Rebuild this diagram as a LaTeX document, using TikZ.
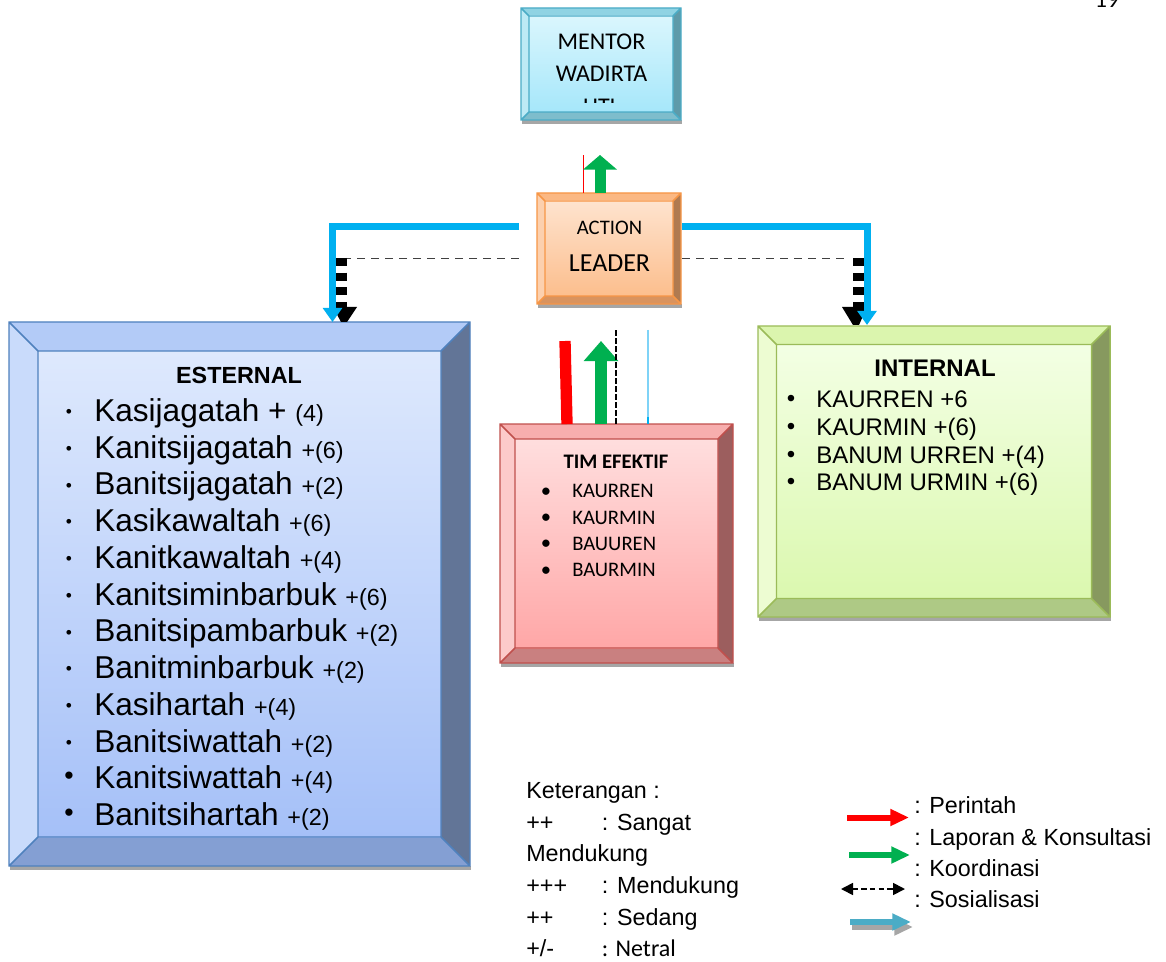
\documentclass[tikz,border=0pt]{standalone}
\usepackage{fontspec}
\setmainfont{Liberation Sans}
\newfontfamily\calfont{Carlito}
\usetikzlibrary{arrows.meta,fit,calc}
% colour schemes: T top, L left, R right, B bottom, I1/I2 inner gradient, D border
\definecolor{mentorT}{HTML}{8FD3E3}\definecolor{mentorL}{HTML}{BDEAF5}\definecolor{mentorR}{HTML}{5E9AA9}\definecolor{mentorB}{HTML}{7EBDCC}
\definecolor{mentorI1}{HTML}{DAF6FD}\definecolor{mentorI2}{HTML}{A6E7FA}\definecolor{mentorD}{HTML}{4BACC6}
\definecolor{leaderT}{HTML}{FBB883}\definecolor{leaderL}{HTML}{FCD0AE}\definecolor{leaderR}{HTML}{B07A50}\definecolor{leaderB}{HTML}{D9935E}
\definecolor{leaderI1}{HTML}{FEE3CE}\definecolor{leaderI2}{HTML}{FCBE8D}\definecolor{leaderD}{HTML}{F79646}
\definecolor{esternalT}{HTML}{B3CBF7}\definecolor{esternalL}{HTML}{C9DBFB}\definecolor{esternalR}{HTML}{627597}\definecolor{esternalB}{HTML}{849FD3}
\definecolor{esternalI1}{HTML}{DEE9FD}\definecolor{esternalI2}{HTML}{A5C0F8}\definecolor{esternalD}{HTML}{4F81BD}
\definecolor{timT}{HTML}{F7AEAE}\definecolor{timL}{HTML}{FCCACA}\definecolor{timR}{HTML}{9C5E5E}\definecolor{timB}{HTML}{C98080}
\definecolor{timI1}{HTML}{FFDEDE}\definecolor{timI2}{HTML}{FFA7A7}\definecolor{timD}{HTML}{C0504D}
\definecolor{internalT}{HTML}{DBF5AE}\definecolor{internalL}{HTML}{EDFCD2}\definecolor{internalR}{HTML}{87995F}\definecolor{internalB}{HTML}{AEC985}
\definecolor{internalI1}{HTML}{F3FFE4}\definecolor{internalI2}{HTML}{DBF8AF}\definecolor{internalD}{HTML}{9BBB59}
\definecolor{shadowgray}{HTML}{A6A6A6}
\definecolor{cyanb}{HTML}{00B0F0}
\definecolor{lightcyan}{HTML}{7FD3F7}
\definecolor{greenb}{HTML}{00B050}
\definecolor{tealb}{HTML}{4BACC6}
\definecolor{dashgray}{HTML}{404040}
% bevelled box: x1 y1 x2 y2 bevel name
\newcommand{\bevbox}[6]{%
  \fill[shadowgray] (#1+1,#4) rectangle (#3+1,#4+4);
  \fill[#6T] (#1,#2) -- (#3,#2) -- (#3-#5,#2+#5) -- (#1+#5,#2+#5) -- cycle;
  \fill[#6L] (#1,#2) -- (#1+#5,#2+#5) -- (#1+#5,#4-#5) -- (#1,#4) -- cycle;
  \fill[#6R] (#3,#2) -- (#3-#5,#2+#5) -- (#3-#5,#4-#5) -- (#3,#4) -- cycle;
  \fill[#6B] (#1,#4) -- (#1+#5,#4-#5) -- (#3-#5,#4-#5) -- (#3,#4) -- cycle;
  \shade[top color=#6I1, bottom color=#6I2] (#1+#5,#2+#5) rectangle (#3-#5,#4-#5);
  \draw[#6D, line width=1.1pt] (#1,#2) rectangle (#3,#4) (#1+#5,#2+#5) rectangle (#3-#5,#4-#5)
     (#1,#2) -- (#1+#5,#2+#5) (#3,#2) -- (#3-#5,#2+#5) (#1,#4) -- (#1+#5,#4-#5) (#3,#4) -- (#3-#5,#4-#5);
  \node[fit={(#1,#2)(#3,#4)}, inner sep=0pt] (#6) {};
}
\tikzset{
  bluecon/.style={draw=cyanb, line width=5.25pt, line join=miter, -{Triangle[width=14pt,length=10.5pt]}},
  blackdash/.style={draw=black, line width=8pt, dash pattern=on 6pt off 5pt},
  thindash/.style={draw=dashgray, line width=1.1pt, dash pattern=on 6pt off 4.5pt},
  redbar/.style={draw=red, line width=8.5pt},
  legarrow/.style={line width=4.5pt, -{Triangle[width=12pt,length=14pt]}},
  txt/.style={inner sep=0pt, anchor=base west},
  ctxt/.style={inner sep=0pt, anchor=base},
  bul/.style={inner sep=0pt},
}
\begin{document}
\begin{tikzpicture}[x=0.75pt,y=-0.75pt]
\useasboundingbox (0,0) rectangle (1166,962);
\fill[white] (0,0) rectangle (1166,962);

% page number (cut at the top, as in the reference)
\node[ctxt] (pageno) at (1107,7.5) {\calfont\fontsize{18}{20}\selectfont 19};

% ---------- boxes ----------
\bevbox{521}{8}{681}{120}{8}{mentor}
\bevbox{537}{193}{681}{304}{8}{leader}
\bevbox{9}{322}{470}{866}{29}{esternal}
\bevbox{500}{424}{733}{663}{15}{tim}
\bevbox{758}{326}{1110}{617}{18.5}{internal}

% ---------- mentor / leader texts ----------
\node[ctxt] (m1) at (601.5,49.3) {\calfont\fontsize{18}{20}\selectfont MENTOR};
\node[ctxt] (m2) at (601.5,81.7) {\calfont\fontsize{18}{20}\selectfont WADIRTA};
\begin{scope}
  \clip (529,16) rectangle (673,102.5);
  \node[ctxt] (m3) at (601.5,114.5) {\calfont\fontsize{18}{20}\selectfont HTL};
\end{scope}
\node[ctxt] (l1) at (609.5,235) {\calfont\fontsize{15.5}{18}\selectfont ACTION};
\node[ctxt] (l2) at (609.5,271.7) {\calfont\fontsize{19.5}{22}\selectfont LEADER};

% ---------- connectors between leader and mentor ----------
\coordinate (redtopA) at (583.5,155);
\coordinate (greentopA) at (600,155);
\draw[red, line width=0.9pt] (leader.north -| redtopA) -- (redtopA);
\draw[greenb, line width=8.25pt, -{Triangle[width=25pt,length=11pt]}] (leader.north -| greentopA) -- (greentopA);

% ---------- leader to esternal / internal ----------
\coordinate (lStart) at (519,226.5);
\coordinate (lEnd) at (332.5,322);
\coordinate (rStart) at (682,226.5);
\coordinate (rEnd) at (867,325);
\coordinate (dLa) at (324,258.5);
\coordinate (dLb) at (519,258.5);
\coordinate (dRa) at (682,258.5);
\coordinate (dRb) at (844,258.5);
\draw[thindash] (dLb) -- (dLa);
\draw[thindash] (dRa) -- (dRb);
\coordinate (kL) at (341.5,258);
\coordinate (kR) at (858.5,258);
\draw[blackdash] (kL) -- (341.5,307);
\draw[blackdash] (kR) -- (858.5,307);
\fill[black] (333,307) -- (357,307) -- (347,322) -- (341,322) -- cycle;
\fill[black] (842,307) -- (867,307) -- (859,325) -- (853,325) -- cycle;
\draw[bluecon] (lStart) -| (lEnd);
\draw[bluecon] (rStart) -| (rEnd);

% ---------- connectors above tim efektif ----------
\coordinate (redB) at (565,341);
\coordinate (grnB) at (601,341);
\coordinate (dshB) at (616,330);
\coordinate (bluB) at (648,330);
\draw[redbar] (567,424) -- (redB);
\draw[greenb, line width=9pt, -{Triangle[width=25pt,length=15pt]}] (tim.north -| grnB) -- (grnB);
\draw[black, line width=0.8pt, dash pattern=on 4pt off 2pt] (tim.north -| dshB) -- (dshB);
\draw[lightcyan, line width=1pt] (bluB) -- (648,417);
\draw[cyanb, line width=1.6pt] (648,417) -- (tim.north -| bluB);

% ---------- esternal texts ----------
\node[ctxt] (estT) at (239,383) {\fontsize{17.5}{20}\selectfont\bfseries ESTERNAL};
\node[txt] (e0) at (94,421.4) {\fontsize{23.7}{27}\selectfont Kasijagatah + {\fontsize{17.5}{20}\selectfont(4)}};
\foreach \i/\nm/\pp in {1/Kanitsijagatah/6, 2/Banitsijagatah/2, 3/Kasikawaltah/6, 4/Kanitkawaltah/4,
   5/Kanitsiminbarbuk/6, 6/Banitsipambarbuk/2, 7/Banitminbarbuk/2, 8/Kasihartah/4,
   9/Banitsiwattah/2, 10/Kanitsiwattah/4, 11/Banitsihartah/2}{
  \node[txt] (e\i) at (94,{421.4+36.75*\i}) {\fontsize{23.7}{27}\selectfont \nm\ {\fontsize{17.5}{20}\selectfont+(\pp)}};
}
\foreach \i in {0,...,9}{
  \node[bul] (eb\i) at (69,{413.5+36.75*\i}) {\fontsize{13}{13}\selectfont •};
}
\foreach \i in {10,11}{
  \node[bul] (eb\i) at (69,{411+36.75*\i}) {\fontsize{20}{20}\selectfont •};
}

% ---------- tim efektif texts ----------
\node[ctxt] (timT) at (616,468.3) {\calfont\fontsize{15.5}{18}\selectfont\bfseries TIM EFEKTIF};
\foreach \i/\nm in {0/KAURREN, 1/KAURMIN, 2/BAUUREN, 3/BAURMIN}{
  \node[txt] (t\i) at (572,{497.7+26.3*\i}) {\calfont\fontsize{15.5}{18}\selectfont \nm};
  \node[bul] (tb\i) at (546,{492.5+26.3*\i}) {\calfont\fontsize{15.5}{18}\selectfont •};
}

% ---------- internal texts ----------
\node[ctxt] (intT) at (935,376) {\fontsize{18}{21}\selectfont\bfseries INTERNAL};
\foreach \i/\nm in {0/{KAURREN +6}, 1/{KAURMIN +(6)}, 2/{BANUM URREN +(4)}, 3/{BANUM URMIN +(6)}}{
  \node[txt] (n\i) at (816,{407.7+27.75*\i}) {\fontsize{18}{21}\selectfont \nm};
  \node[bul] (nb\i) at (791,{401+27.75*\i}) {\fontsize{18}{21}\selectfont •};
}

% ---------- legend, left ----------
\node[txt] (k0) at (526,798.3) {\fontsize{17.5}{20}\selectfont Keterangan :};
\node[txt] (k1a) at (526,830) {\fontsize{17.5}{20}\selectfont ++};
\node[txt] (k1b) at (601.7,830) {\fontsize{17.5}{20}\selectfont : Sangat};
\node[txt] (k2) at (526,861.7) {\fontsize{17.5}{20}\selectfont Mendukung};
\node[txt] (k3a) at (526,893.3) {\fontsize{17.5}{20}\selectfont +++};
\node[txt] (k3b) at (601.7,893.3) {\fontsize{17.5}{20}\selectfont : Mendukung};
\node[txt] (k4a) at (526,925) {\fontsize{17.5}{20}\selectfont ++};
\node[txt] (k4b) at (601.7,925) {\fontsize{17.5}{20}\selectfont : Sedang};
\node[txt] (k5a) at (526,956.7) {\fontsize{17.5}{20}\selectfont +/-};
\node[txt] (k5b) at (601.7,956.7) {\calfont\fontsize{18}{20}\selectfont : Netral};

% ---------- legend, right ----------
\coordinate (ar1a) at (847,817.5); \coordinate (ar1b) at (909,817.5);
\coordinate (ar2a) at (849,855);   \coordinate (ar2b) at (910,855);
\coordinate (ar3a) at (841,889);   \coordinate (ar3b) at (905,889);
\coordinate (ar4a) at (850,922);   \coordinate (ar4b) at (911,922);
\draw[legarrow, red] (ar1a) -- (ar1b);
\draw[legarrow, greenb] (ar2a) -- (ar2b);
\draw[black, line width=1.3pt, dash pattern=on 4pt off 2.5pt, {Triangle[width=9pt,length=9pt]}-{Triangle[width=9pt,length=9pt]}] (ar3a) -- (ar3b);
\draw[legarrow, shadowgray] ($(ar4a)+(2,5)$) -- ($(ar4b)+(2,5)$);
\draw[legarrow, tealb] (ar4a) -- (ar4b);
\node[txt] (g1) at (914,813) {\fontsize{17.5}{20}\selectfont : Perintah};
\node[txt] (g2) at (914,845) {\fontsize{17.5}{20}\selectfont : Laporan \& Konsultasi};
\node[txt] (g3) at (914,876.7) {\fontsize{17.5}{20}\selectfont : Koordinasi};
\node[txt] (g4) at (914,907.3) {\fontsize{17.5}{20}\selectfont : Sosialisasi};
\end{tikzpicture}
\end{document}
